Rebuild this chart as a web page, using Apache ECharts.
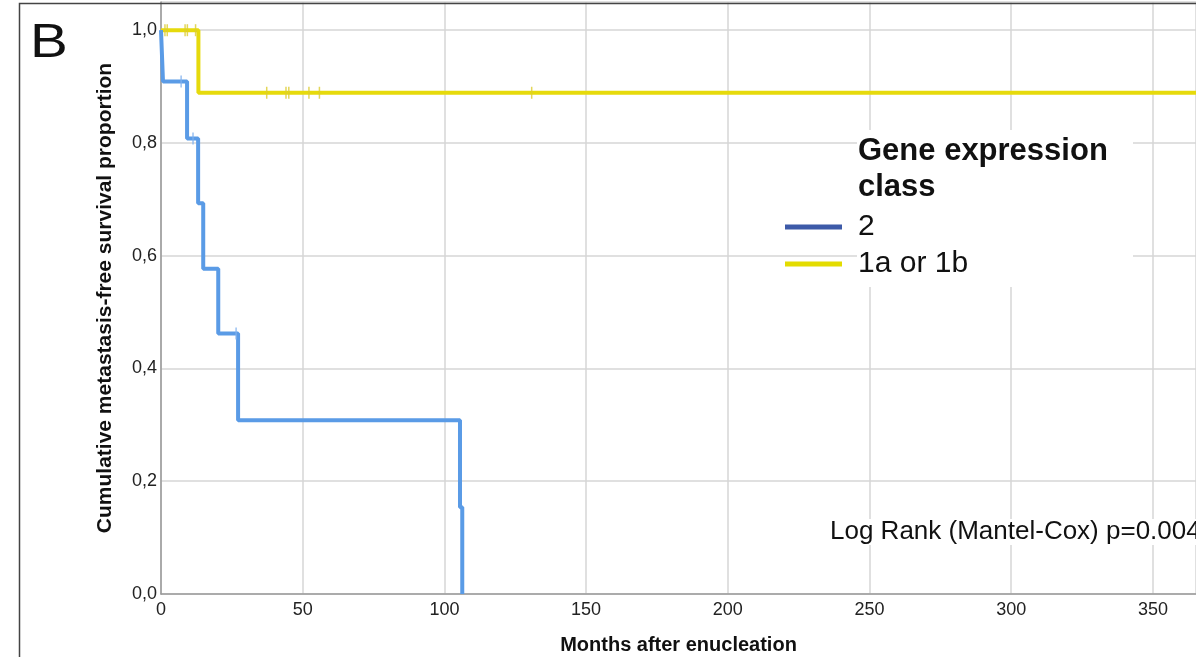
<!DOCTYPE html>
<html lang="en">
<head>
    <meta charset="utf-8"/>
    <title>Metastasis-free survival by gene expression class</title>
    <script src="https://cdn.jsdelivr.net/npm/echarts@6/dist/echarts.min.js"></script>
</head>
<body style="margin:0;background:#fff;">
<div id="chart" style="width:1196px;height:657px;"></div>

<script type="text/javascript">
    // class 2 (blue) - step points [months, proportion]
    var class2Months = [0, 0.7, 9.2, 13.1, 14.9, 20.2, 27.2, 105.5, 106.3];
    var class2Surv = [1.0, 0.909, 0.808, 0.693, 0.577, 0.462, 0.308, 0.154, 0.0];
    var class2CensMonths = [7.1, 11.3, 26.5];
    var class2CensSurv = [0.909, 0.808, 0.462];

    // class 1a or 1b (yellow)
    var class1Months = [0, 13.2, 370];
    var class1Surv = [1.0, 0.889, 0.889];
    var class1CensMonths = [1.4, 2.2, 8.5, 9.3, 12.2, 37.3, 44.1, 45.1, 52.2, 55.9, 130.8];
    var class1CensSurv = [1.0, 1.0, 1.0, 1.0, 1.0, 0.889, 0.889, 0.889, 0.889, 0.889, 0.889];

    var xTicks = [0, 50, 100, 150, 200, 250, 300, 350];
    var yTicks = [0, 0.2, 0.4, 0.6, 0.8, 1.0];

    function zip(a, b) {
        return a.map(function (v, i) { return [v, b[i]]; });
    }

    var blue = '#5a9be6';
    var yellow = '#e6da0c';
    var font = 'Liberation Sans, Arial, sans-serif';

    var chart = echarts.init(document.getElementById('chart'));

    chart.setOption({
        animation: false,
        backgroundColor: '#fff',
        // the figure is cut off on the right, so the axis runs to the edge
        grid: {left: 161, top: 2, right: 0, bottom: 63, outerBoundsMode: 'none'},
        xAxis: {
            type: 'value', min: 0, max: 365.2, interval: 50,
            name: 'Months after enucleation', nameLocation: 'middle', nameGap: 41,
            nameTextStyle: {fontFamily: font, fontSize: 20, fontWeight: 'bold', color: '#111'},
            axisLine: {lineStyle: {color: '#999', width: 1.5}},
            axisTick: {show: false},
            axisLabel: {
                margin: 7, fontFamily: font, fontSize: 18, color: '#222', showMaxLabel: false,
                formatter: function (v) { return xTicks.indexOf(v) >= 0 ? String(v) : ''; }
            },
            splitLine: {lineStyle: {color: '#d6d6d6', width: 1.5}}
        },
        yAxis: {
            type: 'value', min: 0, max: 1.05, interval: 0.2,
            name: 'Cumulative metastasis-free survival proportion', nameLocation: 'middle', nameGap: 45,
            nameTextStyle: {fontFamily: font, fontSize: 21, fontWeight: 'bold', color: '#111'},
            axisLine: {show: true, lineStyle: {color: '#999', width: 1.5}},
            axisTick: {show: false},
            axisLabel: {
                margin: 4, fontFamily: font, fontSize: 18, color: '#222', showMaxLabel: false,
                formatter: function (v) {
                    var ok = yTicks.some(function (t) { return Math.abs(t - v) < 1e-6; });
                    return ok ? v.toFixed(1).replace('.', ',') : '';
                }
            },
            splitLine: {lineStyle: {color: '#d6d6d6', width: 1.5}}
        },
        legend: {
            orient: 'vertical', left: 785, top: 210, padding: 0, itemGap: 3, z: 10,
            itemWidth: 57, itemHeight: 5, icon: 'rect',
            textStyle: {fontFamily: font, fontSize: 30, color: '#111', lineHeight: 34, padding: [0, 0, 0, 11]},
            data: [
                {name: '2', itemStyle: {color: '#3d5aa8'}},
                {name: '1a or 1b', itemStyle: {color: '#e3dc00'}}
            ]
        },
        graphic: [
            {type: 'rect', left: 17, top: 1, shape: {width: 1300, height: 700},
                style: {fill: 'none', stroke: '#444', lineWidth: 1.5}, z: 100},
            {type: 'text', left: 30, top: 20, scaleX: 1.18,
                style: {text: 'B', fontFamily: font, fontSize: 48, fill: '#111'}},
            {type: 'rect', left: 857, top: 130, shape: {width: 276, height: 157},
                style: {fill: '#fff'}, z: 5},
            {type: 'text', left: 858, top: 133, z: 6,
                style: {text: 'Gene expression\nclass', fontFamily: font, fontSize: 31, fontWeight: 'bold',
                    lineHeight: 36, fill: '#111'}},
            {type: 'text', left: 830, top: 519, z: 6,
                style: {text: 'Log Rank (Mantel-Cox) p=0.004', fontFamily: font, fontSize: 26, fill: '#111',
                    backgroundColor: '#fff'}}
        ],
        series: [
            {
                name: '2', type: 'line', step: 'end', data: zip(class2Months, class2Surv),
                showSymbol: false, lineStyle: {color: blue, width: 4}, itemStyle: {color: blue}, z: 3
            },
            {
                name: '1a or 1b', type: 'line', step: 'end', data: zip(class1Months, class1Surv),
                showSymbol: false, lineStyle: {color: yellow, width: 4}, itemStyle: {color: yellow}, z: 2
            },
            {
                name: '2 censored', type: 'scatter', data: zip(class2CensMonths, class2CensSurv),
                symbol: 'rect', symbolSize: [1.5, 12], itemStyle: {color: '#7fb0ee'}, z: 4
            },
            {
                name: '1a or 1b censored', type: 'scatter', data: zip(class1CensMonths, class1CensSurv),
                symbol: 'rect', symbolSize: [1.5, 12], itemStyle: {color: '#dccc30'}, z: 4
            }
        ]
    });
</script>
</body>
</html>
